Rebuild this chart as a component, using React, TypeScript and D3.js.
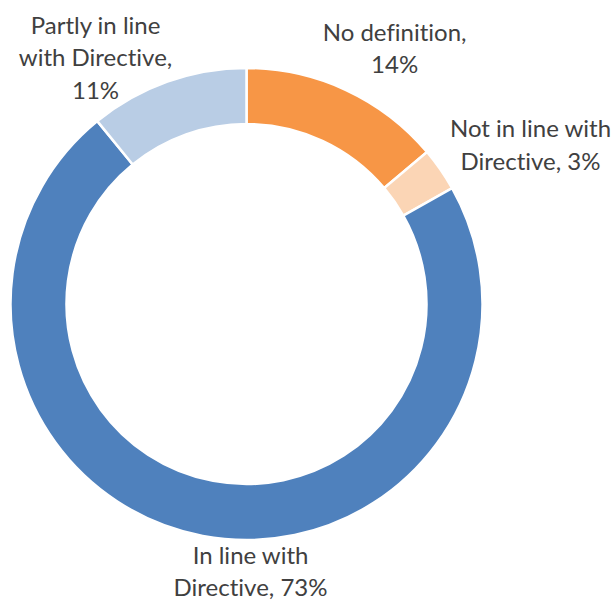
import React from "react";
import * as d3 from "d3";

const categories = ["No definition", "Not in line with Directive", "In line with Directive", "Partly in line with Directive"];
const values = [14, 3, 73, 11];
const labelLines = [
  ["No definition,", "14%"],
  ["Not in line with", "Directive, 3%"],
  ["In line with", "Directive, 73%"],
  ["Partly in line", "with Directive,", "11%"],
];
const colors = ["#F79646", "#FBD5B5", "#4F81BD", "#B9CDE5"];
const labelNudge: [number, number][] = [
  [30, 7],
  [54, 9],
  [56, 1],
  [-57, 26],
];

const W = 616;
const H = 600;
const cx = 246.5;
const cy = 304;
const outerR = 236;
const innerR = 180;
const labelR = 280;
const lineH = 32.5;

export default function App() {
  const pie = d3.pie<number>().sort(null).value((d) => d)(values);
  const arc = d3.arc<d3.PieArcDatum<number>>().innerRadius(innerR).outerRadius(outerR);
  const labelArc = d3.arc<d3.PieArcDatum<number>>().innerRadius(labelR).outerRadius(labelR);
  return (
    <svg width={W} height={H} style={{ position: "absolute", left: 0, top: 0 }}>
      <g transform={`translate(${cx},${cy})`}>
        {pie.map((d, i) => (
          <path key={categories[i]} d={arc(d) || ""} fill={colors[i]} stroke="#fff" strokeWidth={2.5} />
        ))}
      </g>
      {pie.map((d, i) => {
        const [lx, ly] = labelArc.centroid(d);
        const x = cx + lx + labelNudge[i][0];
        const y = cy + ly + labelNudge[i][1];
        const n = labelLines[i].length;
        return (
          <text key={"l" + i} x={x} textAnchor="middle" fontFamily="Lato, 'Open Sans', sans-serif" fontSize={24} fill="#404040" style={{ fontVariantLigatures: "none" }}>
            {labelLines[i].map((t, j) => (
              <tspan key={j} x={x} y={y + (j - (n - 1) / 2) * lineH}>{t}</tspan>
            ))}
          </text>
        );
      })}
    </svg>
  );
}
